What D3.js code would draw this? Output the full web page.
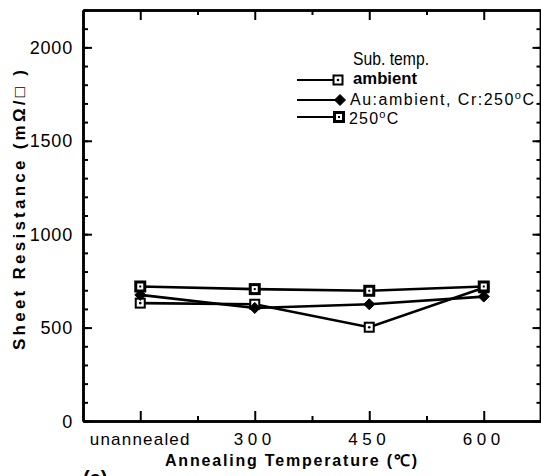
<!DOCTYPE html>
<html>
<head>
<meta charset="utf-8">
<script src="https://cdn.jsdelivr.net/npm/d3@7/dist/d3.min.js"></script>
<style>
  html, body { margin: 0; padding: 0; background: #fff; }
  svg { display: block; }
  text { font-family: "Liberation Sans", Arial, sans-serif; fill: #000; }
</style>
</head>
<body>
<svg id="chart" width="541" height="476"></svg>
<script>
// ---- data ----
const categories = ["unannealed", "300", "450", "600"];
const ambient = [631, 625, 502, 713];
const auAmbientCr250 = [675, 605, 625, 666];
const sub250 = [720, 706, 697, 720];
const yMajorTicks = [0, 500, 1000, 1500, 2000];
const yMinorTicks = d3.range(0, 2201, 100);
const seriesNames = ["ambient", "Au:ambient, Cr:250", "250"];

(function () {
const svg = d3.select("#chart");
const pLeft = 83, pRight = 541, pTop = 10, pBottom = 421;

const x = d3.scaleLinear().domain([-0.5, 3.5]).range([pLeft, pRight]);
const y = d3.scaleLinear().domain([0, 2200]).range([pBottom, pTop]);
const xMajor = d3.range(categories.length);
const xMinor = xMajor.slice(0, -1).map(d => d + 0.5);

// ---- axes (ticks inside) ----
function styleAxis(g) {
  g.selectAll("path").attr("stroke", "#000").attr("stroke-width", 2.5);
  g.selectAll("line").attr("stroke", "#000").attr("stroke-width", 2);
}
// left
svg.append("g").attr("transform", `translate(${pLeft},0)`)
  .call(d3.axisRight(y).tickValues(yMinorTicks).tickSize(5).tickSizeOuter(0).tickFormat(""))
  .call(styleAxis);
svg.append("g").attr("transform", `translate(${pLeft},0)`)
  .call(d3.axisRight(y).tickValues(yMajorTicks).tickSize(9).tickSizeOuter(0).tickFormat(""))
  .call(styleAxis);
// right
svg.append("g").attr("transform", `translate(${pRight - 0.5},0)`)
  .call(d3.axisLeft(y).tickValues(yMinorTicks).tickSize(4).tickSizeOuter(0).tickFormat(""))
  .call(styleAxis);
svg.append("g").attr("transform", `translate(${pRight - 0.5},0)`)
  .call(d3.axisLeft(y).tickValues(yMajorTicks).tickSize(8).tickSizeOuter(0).tickFormat(""))
  .call(styleAxis);
// bottom
svg.append("g").attr("transform", `translate(0,${pBottom})`)
  .call(d3.axisTop(x).tickValues(xMinor).tickSize(5).tickSizeOuter(0).tickFormat(""))
  .call(styleAxis);
svg.append("g").attr("transform", `translate(0,${pBottom})`)
  .call(d3.axisTop(x).tickValues(xMajor).tickSize(10).tickSizeOuter(0).tickFormat(""))
  .call(styleAxis);
// top
svg.append("g").attr("transform", `translate(0,${pTop})`)
  .call(d3.axisBottom(x).tickValues(xMinor).tickSize(5).tickSizeOuter(0).tickFormat(""))
  .call(styleAxis);
svg.append("g").attr("transform", `translate(0,${pTop})`)
  .call(d3.axisBottom(x).tickValues(xMajor).tickSize(10).tickSizeOuter(0).tickFormat(""))
  .call(styleAxis);

// ---- tick labels ----
svg.append("g").selectAll("text").data(yMajorTicks).join("text")
  .attr("x", 73).attr("y", d => y(d) + 6.5)
  .attr("text-anchor", "end")
  .style("font-size", "18px").style("letter-spacing", "0.8px")
  .text(d => d);

svg.append("g").selectAll("text").data(categories).join("text")
  .attr("x", (d, i) => x(i)).attr("y", 445)
  .attr("text-anchor", "middle")
  .style("font-size", "17px")
  .style("letter-spacing", (d, i) => i === 0 ? "1.2px" : "4.5px")
  .text(d => d);

// ---- axis titles ----
svg.append("text")
  .attr("x", 291).attr("y", 466)
  .attr("text-anchor", "middle")
  .attr("textLength", 252).attr("lengthAdjust", "spacing")
  .style("font-size", "16px").style("font-weight", "bold")
  .text("Annealing Temperature (℃)");

svg.append("text")
  .attr("transform", "translate(25,210) rotate(-90)")
  .attr("text-anchor", "middle")
  .attr("textLength", 280).attr("lengthAdjust", "spacing")
  .style("font-size", "17px").style("font-weight", "bold")
  .text("Sheet  Resistance  (mΩ/□ )");

svg.append("text")
  .attr("x", 83).attr("y", 485)
  .style("font-size", "20px").style("font-weight", "bold")
  .text("(a)");

// ---- markers ----
function drawMarker(g, type, cx, cy) {
  if (type === 0) {
    g.append("rect").attr("x", cx - 4.5).attr("y", cy - 4.5).attr("width", 9).attr("height", 9)
      .attr("fill", "#fff").attr("stroke", "#000").attr("stroke-width", 2);
    g.append("circle").attr("cx", cx).attr("cy", cy).attr("r", 1.3).attr("fill", "#000");
  } else if (type === 1) {
    const s = 5.5;
    g.append("path").attr("d", `M${cx},${cy - s}L${cx + s},${cy}L${cx},${cy + s}L${cx - s},${cy}Z`)
      .attr("fill", "#000").attr("stroke", "#000").attr("stroke-width", 1);
  } else {
    g.append("rect").attr("x", cx - 4.5).attr("y", cy - 4.5).attr("width", 9).attr("height", 9)
      .attr("fill", "#fff").attr("stroke", "#000").attr("stroke-width", 3);
    g.append("rect").attr("x", cx - 1).attr("y", cy - 1).attr("width", 2).attr("height", 2).attr("fill", "#000");
  }
}

// ---- series ----
const allSeries = [ambient, auAmbientCr250, sub250];
const line = d3.line().x((d, i) => x(i)).y(d => y(d));
const dataG = svg.append("g");
allSeries.forEach((vals) => {
  dataG.append("path").datum(vals).attr("d", line)
    .attr("fill", "none").attr("stroke", "#000").attr("stroke-width", 2.6);
});
allSeries.forEach((vals, si) => {
  vals.forEach((v, i) => drawMarker(dataG, si, x(i), y(v)));
});

// ---- legend ----
const lg = svg.append("g");
lg.append("text").attr("x", 353).attr("y", 65)
  .attr("textLength", 76).attr("lengthAdjust", "spacingAndGlyphs")
  .style("font-size", "19px").text("Sub. temp.");
const rowsY = [80, 100, 117];
const markerX = [338, 340, 339];
rowsY.forEach((ry, i) => {
  lg.append("line").attr("x1", 297).attr("x2", markerX[i]).attr("y1", ry).attr("y2", ry)
    .attr("stroke", "#000").attr("stroke-width", 1.8);
  drawMarker(lg, i, markerX[i], ry);
});
lg.append("text").attr("x", 353).attr("y", 84)
  .attr("textLength", 64).attr("lengthAdjust", "spacingAndGlyphs")
  .style("font-size", "16px").style("font-weight", "bold")
  .text(seriesNames[0]);
const t2 = lg.append("text").attr("x", 350).attr("y", 105)
  .style("font-size", "16px").style("letter-spacing", "1.5px");
t2.append("tspan").text(seriesNames[1]);
t2.append("tspan").attr("dy", -6).style("font-size", "11px").text("o");
t2.append("tspan").attr("dy", 6).text("C");
const t3 = lg.append("text").attr("x", 349).attr("y", 124)
  .style("font-size", "16px").style("letter-spacing", "1.2px");
t3.append("tspan").text(seriesNames[2]);
t3.append("tspan").attr("dy", -6).style("font-size", "11px").text("o");
t3.append("tspan").attr("dy", 6).text("C");
})();
</script>
</body>
</html>
